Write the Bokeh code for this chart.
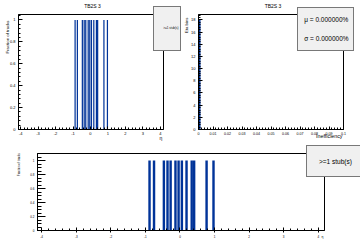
from math import pi
from bokeh.plotting import figure
from bokeh.models import (Range1d, SingleIntervalTicker, CustomJSTickFormatter, Label,
                          Legend, LegendItem)
from bokeh.layouts import column, row
from bokeh.embed import file_html
from bokeh.resources import INLINE

FONT = "Liberation Sans"
BLUE = "#003399"

# ---- data ----
eta_centers = [-0.88, -0.75, -0.465, -0.36, -0.27, -0.13, -0.04, 0.055, 0.19, 0.34, 0.41, 0.77, 0.97]
eff_values = [1, 1, 1, 1, 1, 1, 1, 1, 1, 1, 1, 1, 1]
eta_bin_width = 0.07
ineff_centers = [0.0007]
ineff_counts = [18]
ineff_bin_width = 0.0014
title_text = "TB2S 3"
legend_text = ">=1 stub(s)"
mean_text = "\u03bc = 0.000000%"
sigma_text = "\u03c3 = 0.000000%"
eff_ylabel = "Fraction of tracks"
ineff_ylabel = "Eta bins"
ineff_xlabel = "Inefficiency"
eta_xlabel = "\u03b7"

fmt_code = "return String(Math.round(tick*1000)/1000);"


def make_fig(w, h, xr, yr, bl, br, bt, bb):
    p = figure(width=w, height=h, x_range=Range1d(*xr), y_range=Range1d(*yr),
               output_backend="svg", toolbar_location=None,
               min_border_left=bl, min_border_right=br, min_border_top=bt, min_border_bottom=bb)
    p.grid.visible = False
    p.outline_line_color = "black"
    p.outline_line_width = 1
    p.background_fill_color = "white"
    p.border_fill_color = "white"
    return p


def style_axis(ax, interval, nminor, fs, tin, tout, minin, standoff):
    ax.ticker = SingleIntervalTicker(interval=interval, num_minor_ticks=nminor)
    ax.formatter = CustomJSTickFormatter(code=fmt_code)
    ax.major_label_text_font = FONT
    ax.major_label_text_font_size = fs
    ax.major_label_text_color = "black"
    ax.major_tick_in = tin
    ax.major_tick_out = tout
    ax.minor_tick_in = minin
    ax.minor_tick_out = 0
    ax.major_label_standoff = standoff
    ax.axis_line_color = "black"
    ax.major_tick_line_color = "black"
    ax.minor_tick_line_color = "black"


# ---- top-left: efficiency vs eta ----
p1 = make_fig(180, 140, (-4.12, 4.18), (0, 1.05), 18, 17, 14, 11)
p1.vbar(x=eta_centers, width=eta_bin_width, top=eff_values, bottom=0,
        fill_color=BLUE, line_color=None)
style_axis(p1.xaxis[0], 1, 5, "4px", 3, 0, 2, 2)
style_axis(p1.yaxis[0], 0.2, 5, "4px", 4, 0, 2, 3)

# ---- top-right: inefficiency distribution ----
p2 = make_fig(180, 140, (0, 0.1), (0, 18.9), 18, 17, 14, 11)
p2.vbar(x=ineff_centers, width=ineff_bin_width, top=ineff_counts, bottom=0,
        fill_color=BLUE, line_color=None)
style_axis(p2.xaxis[0], 0.01, 5, "3.6px", 3, 0, 2, 2)
style_axis(p2.yaxis[0], 2, 5, "4px", 4, 0, 2, 3)

# ---- bottom: efficiency vs eta (wide pad) ----
p3 = make_fig(360, 100, (-4.12, 4.18), (0, 1.1), 37, 36, 13, 10)
p3.vbar(x=eta_centers, width=eta_bin_width, top=eff_values, bottom=0,
        fill_color=BLUE, line_color=None)
style_axis(p3.xaxis[0], 1, 5, "3px", 3, 2, 2, 2)
style_axis(p3.yaxis[0], 0.2, 4, "3px", 8, 0, 4, 3)

# ---- transparent canvas-wide layer for titles, axis titles and legend boxes ----
W, H = 360, 240
ov = figure(width=W, height=H, x_range=Range1d(0, W), y_range=Range1d(0, H),
            output_backend="svg", toolbar_location=None, min_border=0,
            x_axis_location=None, y_axis_location=None)
ov.grid.visible = False
ov.outline_line_color = None
ov.background_fill_alpha = 0
ov.border_fill_alpha = 0


def add_text(x, y_down, text, size, align="center", angle=0.0):
    ov.add_layout(Label(x=x, y=H - y_down, x_units="screen", y_units="screen", text=text,
                        text_font=FONT, text_font_size=size, text_align=align,
                        text_baseline="middle", angle=angle, text_color="black"))


add_text(92, 5.3, title_text, "5px")
add_text(272.5, 5.3, title_text, "5px")
add_text(6.5, 20, eff_ylabel, "4.3px", align="right", angle=pi / 2)
add_text(160.5, 137, eta_xlabel, "5px")
add_text(185.5, 17, ineff_ylabel, "4.3px", align="right", angle=pi / 2)
add_text(342, 135.7, ineff_xlabel, "5.3px", align="right")
add_text(18.5, 152.7, eff_ylabel, "3px", align="right", angle=pi / 2)
add_text(322, 236.5, eta_xlabel, "3.5px")

r_white = ov.quad(left=[], right=[], top=[], bottom=[], fill_color="white", line_color=None)
r_line = ov.line(x=[], y=[], line_color=BLUE, line_width=1)
r_none_a = ov.line(x=[], y=[], line_alpha=0)
r_none_b = ov.line(x=[], y=[], line_alpha=0)

box_style = dict(label_text_font=FONT, label_text_color="black", border_line_color="black",
                 border_line_width=1, background_fill_color="#f0f0f0",
                 background_fill_alpha=1, margin=0)

leg1 = Legend(items=[LegendItem(label=legend_text, renderers=[r_white, r_line])],
              location=(153.3, H - 50.7), glyph_width=6, glyph_height=41, label_height=41,
              label_width=16, padding=1, label_standoff=2, spacing=0,
              label_text_font_size="3px", **box_style)
ov.add_layout(leg1)

leg2 = Legend(items=[LegendItem(label=mean_text, renderers=[r_none_a]),
                     LegendItem(label=sigma_text, renderers=[r_none_b])],
              location=(297.3, H - 50.7), glyph_width=0, glyph_height=15, label_height=15,
              padding=4, label_standoff=2, spacing=4, label_text_font_size="6.5px", **box_style)
ov.add_layout(leg2)

leg3 = Legend(items=[LegendItem(label=legend_text, renderers=[r_white, r_line])],
              location=(306, H - 177.3), glyph_width=10, glyph_height=28, label_height=28,
              label_width=41, padding=1, label_standoff=1, spacing=0,
              label_text_font_size="6.5px", **box_style)
ov.add_layout(leg3)

ov_holder = row(ov, styles={"position": "absolute", "top": "0px", "left": "0px"})
layout = column(row(p1, p2), p3, ov_holder, styles={"position": "relative"})
open("out.html", "w").write(file_html(layout, INLINE))
